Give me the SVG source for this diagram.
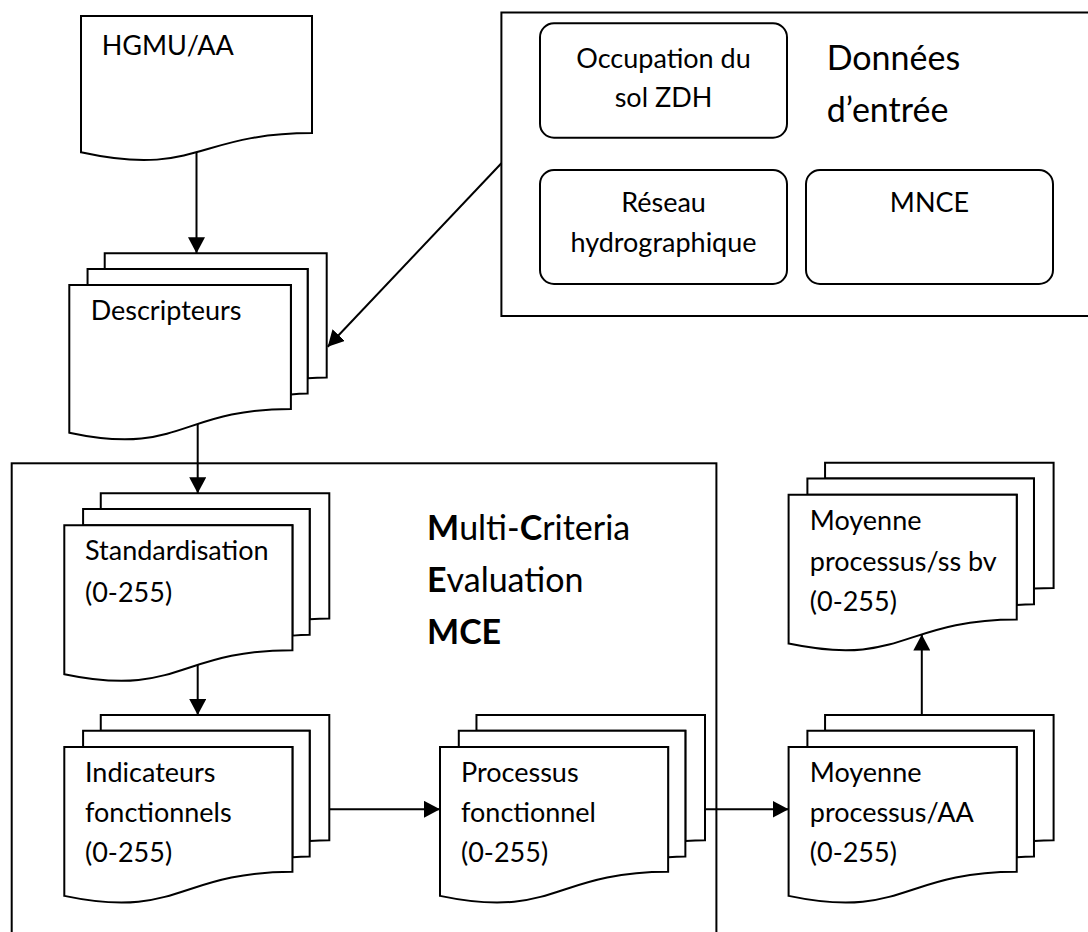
<svg xmlns="http://www.w3.org/2000/svg" xmlns:xlink="http://www.w3.org/1999/xlink" width="1088" height="932" viewBox="0 0 1088 932">
<style>
  .shape path, .box { fill: #fff; stroke: #000; stroke-width: 2; vector-effect: non-scaling-stroke; }
  .frame { fill: none; stroke: #000; stroke-width: 2; }
  .t { font-family: Lato, "Liberation Sans", sans-serif; font-size: 27px; fill: #000; }
  .c { text-anchor: middle; }
  .title { font-family: Lato, "Liberation Sans", sans-serif; font-size: 34px; fill: #000; }
  .conn line { stroke: #000; stroke-width: 2; fill: none; }
</style>
<defs>
  <symbol id="doc" class="shape" viewBox="0 0 21600 21600" preserveAspectRatio="none" overflow="visible">
    <path d="M0,0 L21600,0 L21600,17322 C10800,17322 10800,23922 0,20172 Z"/>
  </symbol>
  <symbol id="multi" class="shape" viewBox="0 0 21600 21600" preserveAspectRatio="none" overflow="visible">
    <path d="M2972,1815 L2972,0 L21600,0 L21600,14392 C20800,14392 20000,14467 20000,14467 L20000,1815 Z"/>
    <path d="M1532,3675 L1532,1815 L20000,1815 L20000,16252 C19298,16252 18595,16352 18595,16352 L18595,3675 Z"/>
    <path d="M0,3675 L18595,3675 L18595,18022 C9298,18022 9298,23542 0,20782 Z"/>
  </symbol>
  <marker id="arr" viewBox="0 0 16 17" refX="16" refY="8.5" markerWidth="16" markerHeight="17" markerUnits="userSpaceOnUse" orient="auto">
    <path d="M0,0 L16,8.5 L0,17 Z" fill="#000"/>
  </marker>
</defs>

<g id="donnees-entree">
  <rect class="frame" x="501.4" y="12.5" width="620" height="303.5"/>
  <text class="title" x="826.7" y="70">Données</text>
  <text class="title" x="826.7" y="121.7">d’entrée</text>
</g>
<g id="occupation">
  <rect class="box" x="540" y="23.3" width="247" height="114.4" rx="14"/>
  <text class="t c" x="663.5" y="68.3">Occupation du</text>
  <text class="t c" x="663.5" y="106.7">sol ZDH</text>
</g>
<g id="reseau">
  <rect class="box" x="540" y="170" width="247" height="114" rx="14"/>
  <text class="t c" x="663.5" y="211.7">Réseau</text>
  <text class="t c" x="663.5" y="251.7">hydrographique</text>
</g>
<g id="mnce">
  <rect class="box" x="806" y="170" width="247" height="114" rx="14"/>
  <text class="t c" x="929.5" y="211.7">MNCE</text>
</g>

<g id="mce">
  <rect class="frame" x="11.7" y="463.3" width="704.7" height="500"/>
  <text class="title" x="427" y="540"><tspan font-weight="bold">M</tspan>ulti-<tspan font-weight="bold">C</tspan>riteria</text>
  <text class="title" x="427" y="591.7"><tspan font-weight="bold">E</tspan>valuation</text>
  <text class="title" x="427" y="644" font-weight="bold">MCE</text>
</g>

<g id="hgmu">
  <use href="#doc" x="81" y="16" width="231" height="146"/>
  <text class="t" x="101.7" y="55">HGMU/AA</text>
</g>
<g id="descripteurs">
  <use href="#multi" x="69.3" y="253.3" width="257.4" height="186.5"/>
  <text class="t" x="90.7" y="320">Descripteurs</text>
</g>
<g id="standardisation">
  <use href="#multi" x="64.3" y="493.3" width="265" height="188"/>
  <text class="t" x="85" y="560">Standardisation</text>
  <text class="t" x="85" y="602">(0-255)</text>
</g>
<g id="indicateurs">
  <use href="#multi" x="64.3" y="715" width="265" height="188"/>
  <text class="t" x="85" y="781.7">Indicateurs</text>
  <text class="t" x="85" y="822">fonctionnels</text>
  <text class="t" x="85" y="862">(0-255)</text>
</g>
<g id="processus">
  <use href="#multi" x="440" y="715" width="265" height="188"/>
  <text class="t" x="461" y="781.7">Processus</text>
  <text class="t" x="461" y="822">fonctionnel</text>
  <text class="t" x="461" y="862">(0-255)</text>
</g>
<g id="moyenne-aa">
  <use href="#multi" x="788.6" y="715" width="265" height="188"/>
  <text class="t" x="809.8" y="781.7">Moyenne</text>
  <text class="t" x="809.8" y="822">processus/AA</text>
  <text class="t" x="809.8" y="862">(0-255)</text>
</g>
<g id="moyenne-ssbv">
  <use href="#multi" x="788.6" y="462.7" width="265" height="188"/>
  <text class="t" x="809.8" y="530">Moyenne</text>
  <text class="t" x="809.8" y="570.7">processus/ss bv</text>
  <text class="t" x="809.8" y="611">(0-255)</text>
</g>

<g id="connectors" class="conn">
  <line x1="196.5" y1="152" x2="196.5" y2="253.3" marker-end="url(#arr)"/>
  <line x1="501.4" y1="163.3" x2="327.7" y2="346.7" marker-end="url(#arr)"/>
  <line x1="197.7" y1="424" x2="197.7" y2="493.3" marker-end="url(#arr)"/>
  <line x1="197.7" y1="665" x2="197.7" y2="715" marker-end="url(#arr)"/>
  <line x1="329.3" y1="809.3" x2="440" y2="809.3" marker-end="url(#arr)"/>
  <line x1="704.5" y1="809.3" x2="788.6" y2="809.3" marker-end="url(#arr)"/>
  <line x1="921.8" y1="715" x2="921.8" y2="634.5" marker-end="url(#arr)"/>
</g>
</svg>
